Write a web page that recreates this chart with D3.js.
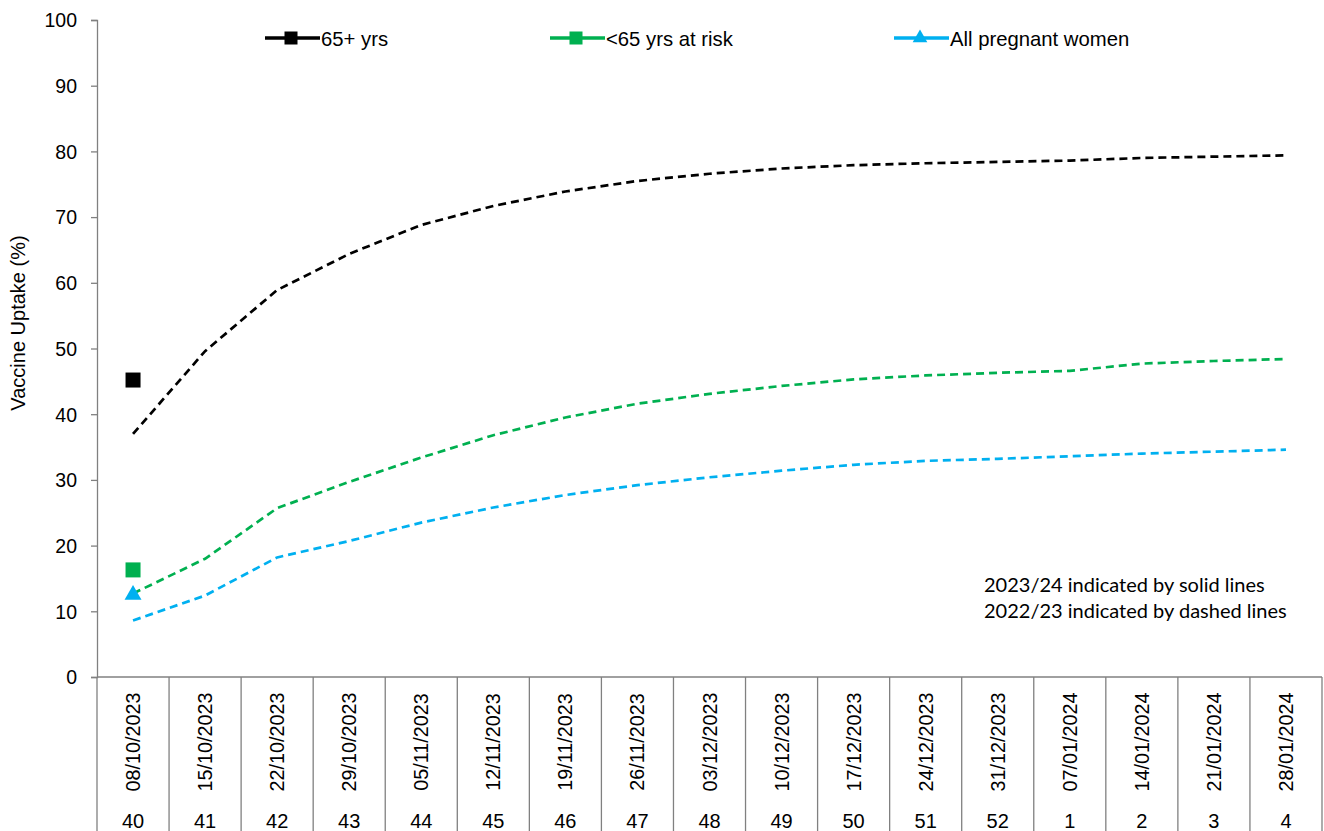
<!DOCTYPE html>
<html><head><meta charset="utf-8">
<script src="https://cdn.jsdelivr.net/npm/d3@7"></script>
<style>body{margin:0;background:#fff}svg{display:block}</style>
</head><body>
<svg id="chart" width="1324" height="831"></svg>
<script>
const dates = ["08/10/2023","15/10/2023","22/10/2023","29/10/2023","05/11/2023","12/11/2023","19/11/2023","26/11/2023","03/12/2023","10/12/2023","17/12/2023","24/12/2023","31/12/2023","07/01/2024","14/01/2024","21/01/2024","28/01/2024"];
const weeks = ["40","41","42","43","44","45","46","47","48","49","50","51","52","1","2","3","4"];
const yTicks = [0,10,20,30,40,50,60,70,80,90,100];
const seriesNames = ["65+ yrs","<65 yrs at risk","All pregnant women"];
const seriesColors = ["#000000","#00b050","#00b0f0"];
const seriesMarkers = ["square","square","triangle"];
// 2022/23 (dashed)
const prev65 = [37.0,49.6,58.9,64.4,68.8,71.7,73.9,75.5,76.6,77.4,77.9,78.2,78.4,78.6,79.0,79.2,79.4];
const prevRisk = [12.7,18.0,25.7,29.7,33.4,36.8,39.5,41.6,43.1,44.3,45.3,45.9,46.3,46.6,47.7,48.1,48.4];
const prevPreg = [8.6,12.4,18.2,20.7,23.5,25.8,27.7,29.2,30.4,31.4,32.3,32.9,33.2,33.6,34.0,34.3,34.6];
// 2023/24 (solid) - only first week available
const cur65 = [45.2];
const curRisk = [16.3];
const curPreg = [12.5];
const noteLines = ["2023/24 indicated by solid lines","2022/23 indicated by dashed lines"];

const svg = d3.select("#chart");
const m = {left:97, right:1322, top:20, bottom:677};
const x = d3.scaleBand().domain(dates).range([m.left, m.right]).paddingInner(0).paddingOuter(0);
const y = d3.scaleLinear().domain([0,100]).range([m.bottom, m.top]);
const axisCol = "#808080";
const font = "'Liberation Sans', Arial, sans-serif";

// y axis
const ya = svg.append("g").attr("transform",`translate(${m.left},0)`)
  .call(d3.axisLeft(y).tickValues(yTicks).tickSize(6).tickPadding(14));
ya.select(".domain").attr("stroke",axisCol).attr("stroke-width",1.3);
ya.selectAll(".tick line").attr("stroke",axisCol).attr("stroke-width",1.3);
ya.selectAll(".tick text").attr("font-family",font).attr("font-size",19.5).attr("fill","#000").attr("dy","0.35em");

svg.append("text").attr("transform",`translate(25,323) rotate(-90)`)
  .attr("text-anchor","middle").attr("font-family",font).attr("font-size",20).text("Vaccine Uptake (%)");

// x axis table
svg.append("line").attr("x1",m.left).attr("x2",m.right).attr("y1",m.bottom).attr("y2",m.bottom)
  .attr("stroke",axisCol).attr("stroke-width",1.3);
const bounds = dates.map(d=>x(d)).concat([x(dates[dates.length-1])+x.bandwidth()]);
svg.selectAll("line.div").data(bounds).enter().append("line")
  .attr("x1",d=>d).attr("x2",d=>d).attr("y1",m.bottom).attr("y2",831)
  .attr("stroke",axisCol).attr("stroke-width",1.3);
svg.selectAll("text.date").data(dates).enter().append("text")
  .attr("transform",d=>`translate(${x(d)+x.bandwidth()/2+7},742) rotate(-90)`)
  .attr("text-anchor","middle").attr("font-family",font).attr("font-size",19.8).text(d=>d);
svg.selectAll("text.wk").data(weeks).enter().append("text")
  .attr("x",(d,i)=>x(dates[i])+x.bandwidth()/2).attr("y",828)
  .attr("text-anchor","middle").attr("font-family",font).attr("font-size",20).text(d=>d);

const cx = d => x(d)+x.bandwidth()/2;
const line = d3.line().x((v,i)=>cx(dates[i])).y(v=>y(v));
const prevData = [prev65, prevRisk, prevPreg];
const curData = [cur65, curRisk, curPreg];
prevData.forEach((arr,k)=>{
  svg.append("path").datum(arr).attr("d",line).attr("fill","none")
    .attr("stroke",seriesColors[k]).attr("stroke-width",2.7).attr("stroke-dasharray","8,5");
});
function marker(g, type, px, py, size, color){
  if(type==="square"){
    g.append("rect").attr("x",px-size/2).attr("y",py-size/2).attr("width",size).attr("height",size).attr("fill",color);
  } else {
    const s = d3.symbol().type(d3.symbolTriangle).size(size*size*0.55);
    g.append("path").attr("d",s()).attr("transform",`translate(${px},${py})`).attr("fill",color);
  }
}
curData.forEach((arr,k)=>{
  svg.append("path").datum(arr).attr("d",line).attr("fill","none")
    .attr("stroke",seriesColors[k]).attr("stroke-width",3);
  arr.forEach((v,i)=>marker(svg, seriesMarkers[k], cx(dates[i]), y(v), 15, seriesColors[k]));
});

// legend
const legX = [265, 550, 894];
seriesNames.forEach((n,k)=>{
  const g = svg.append("g");
  g.append("line").attr("x1",legX[k]).attr("x2",legX[k]+55).attr("y1",38).attr("y2",38)
    .attr("stroke",seriesColors[k]).attr("stroke-width",3.5);
  marker(g, seriesMarkers[k], legX[k]+26, 38, 13, seriesColors[k]);
  g.append("text").attr("x",legX[k]+56).attr("y",45.5).attr("font-family",font).attr("font-size",20.3).text(n);
});

// note
svg.selectAll("text.note").data(noteLines).enter().append("text")
  .attr("x",984).attr("y",(d,i)=>592+i*26).attr("font-family","Lato, 'Open Sans', sans-serif")
  .attr("font-size",20).text(d=>d);
</script>
</body></html>
